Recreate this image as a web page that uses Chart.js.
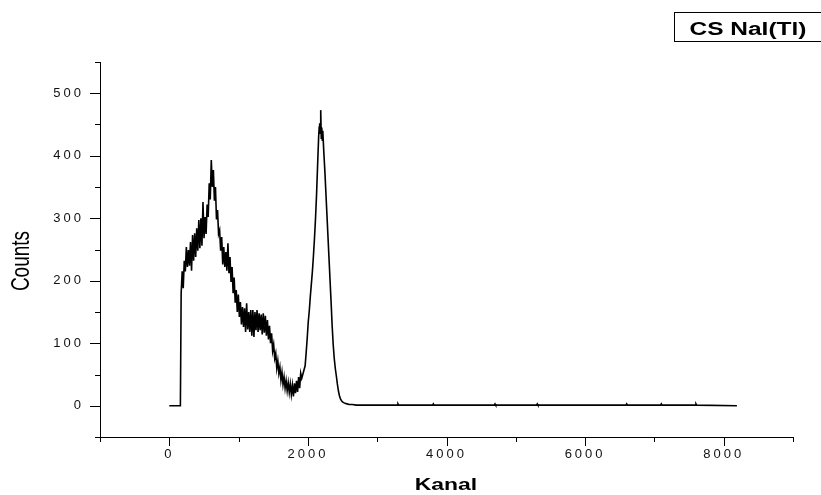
<!DOCTYPE html>
<html>
<head>
<meta charset="utf-8">
<script src="https://cdn.jsdelivr.net/npm/chart.js@4.4.0/dist/chart.umd.min.js"></script>
<style>
  html, body { margin: 0; padding: 0; background: #fff; }
  canvas { display: block; }
</style>
</head>
<body>
<canvas id="spectrum" width="821" height="495"></canvas>
<script>
// Cs-137 spectrum, NaI(Tl) detector - channels and counts
const kanal = [
  0, 160,
  171,186,201,216,231,246,261,276,291,306,
  321,336,351,366,381,396,411,426,441,456,
  471,486,501,516,531,546,561,576,591,606,
  621,636,651,666,681,696,711,726,741,756,
  771,786,801,816,831,846,861,876,891,906,
  921,936,951,966,981,996,1011,1026,1041,1056,
  1071,1086,1101,1116,1131,1146,1161,1176,1191,1206,
  1221,1236,1251,1266,1281,1296,1311,1326,1341,1356,
  1371,1386,1401,1416,1431,1446,1461,1476,1491,1506,
  1521,1536,1551,1566,1581,1596,1611,1626,1641,1656,
  1671,1686,1701,1716,1731,1746,1761,1776,1791,1806,
  1821,1836,1851,1866,1881,1896,1911,1926,
  // photopeak
  1960,1975,1990,2005,2020,2035,2050,2065,2080,2095,
  2110,2125,2140,2155,2163,2170,2178,2185,2193,2200,
  2208,2215,2230,2245,2260,2275,2290,2305,2320,2335,
  2350,2365,2380,2395,2410,2425,2440,2455,2470,2485,
  2500,2515,2535,2565,2595,2640,
  // tail
  2700,3000,3290,3300,3310,3800,3810,3820,4500,4690,
  4700,4710,5300,5310,5320,6000,6590,6600,6610,7090,
  7100,7110,7590,7600,7610,8191
];

const counts = [
  0, 0,
  180,215,188,232,215,254,222,249,224,262,
  216,273,232,276,238,284,248,297,252,300,
  256,326,268,302,275,322,302,356,330,393,
  350,377,328,350,298,313,275,281,248,270,
  226,254,222,246,216,260,212,238,198,222,
  180,205,165,185,150,178,142,166,130,158,
  126,156,118,164,122,150,118,153,112,153,
  110,150,121,153,118,148,121,146,114,148,
  117,144,112,137,106,128,100,116,88,98,
  76,84,60,72,52,62,41,54,34,46,
  28,40,24,37,21,35,18,33,15,36,
  20,40,22,46,28,52,44,50,
  64,85,108,134,152,175,195,215,240,268,
  300,338,385,430,446,452,436,473,428,445,
  425,440,405,375,340,305,270,235,200,165,
  128,98,76,60,48,35,24,16,11,8,
  6,5,4,3,2,2,
  1,1,1,3,1,1,3,1,1,1,
  3,1,1,3,1,1,1,3,1,1,
  3,1,1,3,1,0
];

const xTickLabels = [0, 2000, 4000, 6000, 8000];
const yTickLabels = [0, 100, 200, 300, 400, 500];

const points = kanal.map(function(k, i) { return { x: k, y: counts[i] }; });

// white background, letter spacing for the tick labels, custom tick marks and texts
const originLook = {
    id: 'originLook',
    beforeDraw: function(chart) {
        const ctx = chart.ctx;
        ctx.save();
        ctx.fillStyle = '#fff';
        ctx.fillRect(0, 0, chart.width, chart.height);
        ctx.restore();
        ctx.letterSpacing = '3px';
    },
    afterDraw: function(chart) {
        const ctx = chart.ctx;
        const area = chart.chartArea;
        const xs = chart.scales.x;
        const ys = chart.scales.y;
        ctx.save();
        ctx.letterSpacing = '0px';
        ctx.strokeStyle = '#000';
        ctx.lineWidth = 1;
        ctx.beginPath();
        xs.ticks.forEach(function(t) {
            const px = Math.round(xs.getPixelForValue(t.value)) + 0.5;
            const len = xTickLabels.includes(t.value) ? 9 : 5;
            ctx.moveTo(px, area.bottom);
            ctx.lineTo(px, area.bottom + len);
        });
        ys.ticks.forEach(function(t) {
            const py = Math.round(ys.getPixelForValue(t.value)) + 0.5;
            const len = yTickLabels.includes(t.value) ? 10 : 5;
            ctx.moveTo(area.left, py);
            ctx.lineTo(area.left - len, py);
        });
        ctx.stroke();

        ctx.fillStyle = '#000';
        ctx.textAlign = 'center';
        ctx.textBaseline = 'alphabetic';

        // x axis title
        ctx.save();
        ctx.translate(446, 490);
        ctx.scale(1.35, 1);
        ctx.font = 'bold 17px "Liberation Sans", Arial, sans-serif';
        ctx.fillText('Kanal', 0, 0);
        ctx.restore();

        // y axis title
        ctx.save();
        ctx.translate(22, 261);
        ctx.scale(1.33, 1);
        ctx.rotate(-Math.PI / 2);
        ctx.textBaseline = 'middle';
        ctx.font = '19px "Liberation Sans", Arial, sans-serif';
        ctx.fillText('Counts', 0, 0);
        ctx.restore();

        // legend box
        ctx.strokeRect(674.5, 12.5, 150, 29);
        ctx.save();
        ctx.translate(748, 35);
        ctx.scale(1.36, 1);
        ctx.font = 'bold 18px "Liberation Sans", Arial, sans-serif';
        ctx.fillText('CS NaI(Tl)', 0, 0);
        ctx.restore();
        ctx.restore();
    }
};

new Chart(document.getElementById('spectrum'), {
    type: 'line',
    data: {
        datasets: [{
            data: points,
            borderColor: '#000',
            borderWidth: 1.6,
            pointRadius: 0,
            tension: 0,
            fill: false
        }]
    },
    options: {
        responsive: false,
        animation: false,
        devicePixelRatio: 1,
        layout: { padding: { top: 62, right: 28, left: 0, bottom: 0 } },
        plugins: {
            legend: { display: false },
            tooltip: { enabled: false }
        },
        scales: {
            x: {
                type: 'linear',
                min: -1000,
                max: 9000,
                afterFit: function(scale) { scale.height = 58; },
                grid: { display: false, drawTicks: false },
                border: { display: true, color: '#000', width: 1 },
                ticks: {
                    stepSize: 1000,
                    autoSkip: false,
                    maxRotation: 0,
                    padding: 10,
                    color: '#111',
                    font: { family: '"Liberation Sans", Arial, sans-serif', size: 13 },
                    callback: function(v) { return xTickLabels.includes(v) ? String(v) : ''; }
                }
            },
            y: {
                min: -50,
                max: 550,
                afterFit: function(scale) { scale.width = 100; },
                grid: { display: false, drawTicks: false },
                border: { display: true, color: '#000', width: 1 },
                ticks: {
                    stepSize: 50,
                    autoSkip: false,
                    padding: 16,
                    color: '#111',
                    font: { family: '"Liberation Sans", Arial, sans-serif', size: 13 },
                    callback: function(v) { return yTickLabels.includes(v) ? String(v) : ''; }
                }
            }
        }
    },
    plugins: [originLook]
});
</script>
</body>
</html>
